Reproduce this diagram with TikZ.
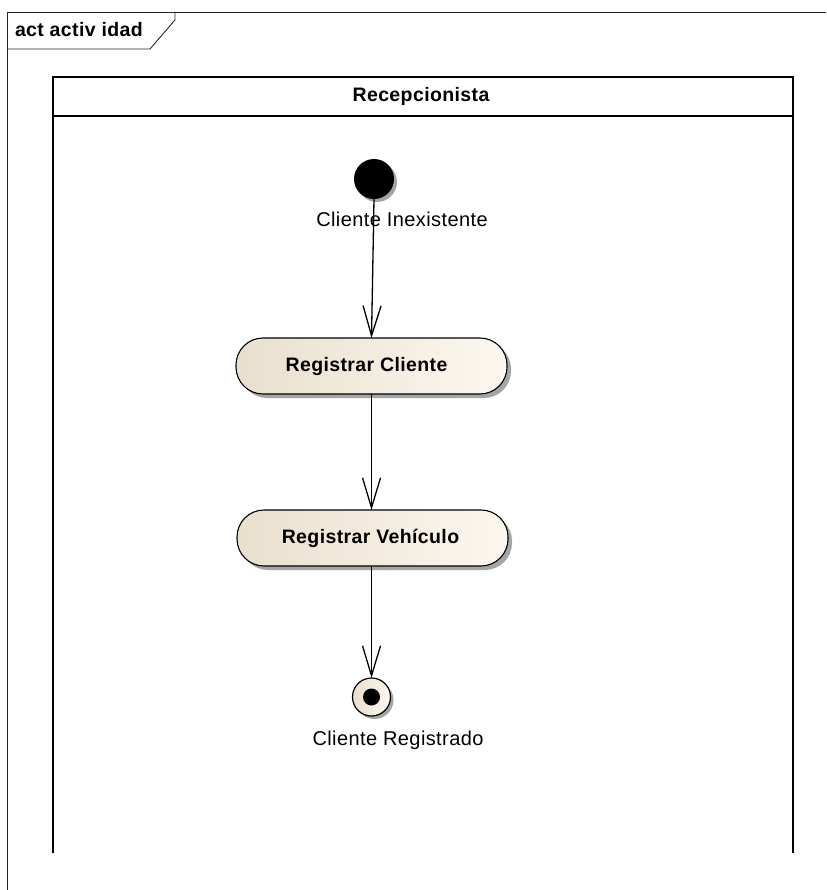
\documentclass[tikz,border=0pt]{standalone}
\usepackage{fontspec}
\setmainfont{Liberation Sans}
\newfontfamily\lblfont[LetterSpace=2]{Liberation Sans}
\usetikzlibrary{arrows.meta,shadows}
\definecolor{actleft}{RGB}{233,223,205}
\definecolor{actright}{RGB}{252,248,240}
\definecolor{shadowgray}{RGB}{165,165,165}
\begin{document}
\begin{tikzpicture}[x=1pt,y=-1pt,
  every node/.style={inner sep=0pt,outer sep=0pt},
  frameline/.style={draw=black!85,line width=0.9pt},
  laneline/.style={draw=black,line width=2.2pt},
  boldtext/.style={font=\lblfont\fontsize{19.5}{22}\selectfont\bfseries},
  plaintext/.style={font=\lblfont\fontsize{20}{22}\selectfont},
  softshadow/.style={general shadow={shadow xshift=4pt,shadow yshift=-4pt,fill=shadowgray}},
  actionbox/.style={draw=black,line width=1.1pt,rounded corners=27pt,
    minimum width=271pt,minimum height=56pt,
    left color=actleft,right color=actright,softshadow,boldtext},
  flow/.style={draw=black,line width=1.3pt,-{Straight Barb[length=30pt,width=18pt]}}
]
\useasboundingbox (0,0) rectangle (826,890);
\fill[white] (0,0) rectangle (826,890);

% diagram frame with its name tab
\draw[frameline] (7,890) -- (7,12) -- (826,12);
\draw[frameline] (7,49) -- (150,49) -- (175,20) -- (175,12);
\node[boldtext,anchor=base west] (frametitle) at (15,37) {act activ idad};

% swimlane
\draw[laneline] (53,853) -- (53,77) -- (793,77) -- (793,853);
\draw[laneline] (53,116) -- (793,116);
\node[boldtext,anchor=base] (lanetitle) at (421,102) {Recepcionista};

% initial node
\node[circle,fill=black,minimum size=40pt,
  general shadow={shadow xshift=3pt,shadow yshift=-3pt,fill=shadowgray}] (start) at (374,179) {};
\node[plaintext,anchor=base] (startlbl) at (402,227) {Cliente Inexistente};

% actions
\node[actionbox] (regcli) at (371.5,366) {\hspace*{-10pt}Registrar Cliente};
\node[actionbox] (regveh) at (372.5,538) {\hspace*{-4pt}Registrar Vehículo};

% final node
\node[circle,draw=black,line width=1.2pt,minimum size=38pt,
  left color=actleft,right color=actright,
  general shadow={shadow xshift=3pt,shadow yshift=-3pt,fill=shadowgray}] (fin) at (371.5,697) {};
\node[circle,fill=black,minimum size=17pt] (findot) at (fin.center) {};
\node[plaintext,anchor=base] (finlbl) at (398,745) {Cliente Registrado};

% control flows
\draw[flow] (start.south) -- (regcli.north);
\draw[flow] (regcli.south) -- (regcli.south |- regveh.north);
\draw[flow] (regveh.south -| fin.north) -- (fin.north);
\end{tikzpicture}
\end{document}
